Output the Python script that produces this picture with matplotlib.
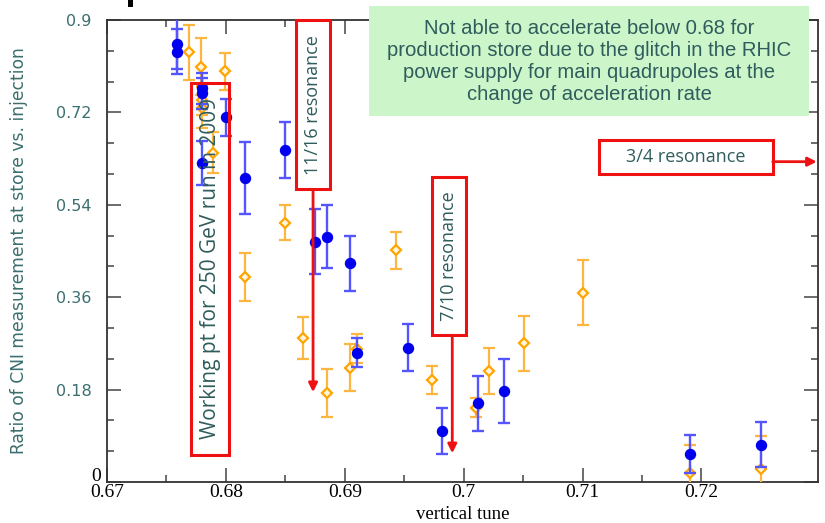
import matplotlib

matplotlib.use("Agg")

import matplotlib.pyplot as plt
from matplotlib.patches import Rectangle
from matplotlib.ticker import MultipleLocator

# -------------------------
# data
# -------------------------
blue_tune = [0.6759, 0.6759, 0.6780, 0.6780, 0.6780, 0.6800, 0.6816, 0.6850,
             0.6875, 0.6885, 0.6904, 0.6910, 0.6953, 0.6982, 0.7012, 0.7034,
             0.7190, 0.7250]
blue_ratio = [0.853, 0.838, 0.767, 0.757, 0.621, 0.711, 0.592, 0.647,
              0.468, 0.478, 0.426, 0.252, 0.262, 0.099, 0.153, 0.177,
              0.054, 0.073]
blue_err = [0.049, 0.044, 0.030, 0.030, 0.043, 0.036, 0.070, 0.054,
            0.063, 0.062, 0.054, 0.028, 0.045, 0.045, 0.054, 0.063,
            0.037, 0.043]

orange_tune = [0.6769, 0.6779, 0.6780, 0.6780, 0.6799, 0.6789, 0.6816, 0.6850,
               0.6865, 0.6885, 0.6904, 0.6910, 0.6943, 0.6973, 0.7010, 0.7021,
               0.7051, 0.7100, 0.7190, 0.7250]
orange_ratio = [0.837, 0.809, 0.744, 0.729, 0.800, 0.641, 0.400, 0.505,
                0.281, 0.173, 0.223, 0.260, 0.451, 0.199, 0.145, 0.216,
                0.270, 0.369, 0.017, 0.025]
orange_err = [0.054, 0.055, 0.030, 0.040, 0.036, 0.040, 0.047, 0.034,
              0.041, 0.047, 0.045, 0.028, 0.036, 0.027, 0.018, 0.045,
              0.054, 0.063, 0.056, 0.064]

x_ticks = [0.67, 0.68, 0.69, 0.70, 0.71, 0.72]
x_tick_labels = ["0.67", "0.68", "0.69", "0.7", "0.71", "0.72"]
y_ticks = [0.0, 0.18, 0.36, 0.54, 0.72, 0.9]
y_tick_labels = ["", "0.18", "0.36", "0.54", "0.72", "0.9"]

note_text = ("Not able to accelerate below 0.68 for\n"
             "production store due to the glitch in the RHIC\n"
             "power supply for main quadrupoles at the\n"
             "change of acceleration rate")

# -------------------------
# style
# -------------------------
TEAL = "#3b6e6e"
NOTE_TEAL = "#2f5c5c"
RED = "#ee1111"
BLUE = "#0000ee"
ORANGE = "#ffa500"
SERIF = "Liberation Serif"
LABEL_FONT = "Open Sans"

fig = plt.figure(figsize=(8.25, 5.23), dpi=100)
ax = fig.add_axes([107 / 825, 1 - 482 / 523, 711 / 825, 462 / 523])

ax.errorbar(orange_tune, orange_ratio, yerr=orange_err, fmt="D",
            color=ORANGE, ecolor="#ffb640", elinewidth=1.6, capsize=4.3,
            capthick=1.6, markersize=5.2, markerfacecolor="#fff4dc",
            markeredgecolor=ORANGE, markeredgewidth=1.6, zorder=3)
ax.errorbar(blue_tune, blue_ratio, yerr=blue_err, fmt="o",
            color=BLUE, ecolor="#5555ff", elinewidth=1.7, capsize=4.3,
            capthick=1.7, markersize=7.2, markeredgecolor=BLUE, zorder=4)

ax.set_xlim(0.67, 0.7298)
ax.set_ylim(0, 0.9)
ax.set_xticks(x_ticks)
ax.set_xticklabels(x_tick_labels, family=SERIF, fontsize=14, color="black")
ax.set_yticks(y_ticks)
ax.set_yticklabels(y_tick_labels, family="DejaVu Sans", fontsize=11.5, color=TEAL)
ax.xaxis.set_minor_locator(MultipleLocator(0.005))
ax.yaxis.set_minor_locator(MultipleLocator(0.06))
ax.tick_params(which="both", direction="in", top=True, right=True,
               width=1.1, color="#444444")
ax.tick_params(which="major", length=10)
ax.tick_params(which="minor", length=5)
ax.tick_params(axis="x", pad=1.5)
ax.tick_params(axis="y", pad=11)
for spine in ax.spines.values():
    spine.set_linewidth(1.3)
    spine.set_color("#333333")

# the zero on the y axis is in the serif face
ax.annotate("0", xy=(0, 0), xycoords="axes fraction", xytext=(-4, 4),
            textcoords="offset points", ha="right", va="center",
            family=SERIF, fontsize=14, color="black")

ax.set_xlabel("vertical tune", family=SERIF, fontsize=13.5, va="top")
ax.xaxis.set_label_coords(0.5, -0.052)
ax.set_ylabel("Ratio of CNI measurement at store vs. injection",
              family="DejaVu Sans", fontsize=12.3, color=TEAL)
ax.yaxis.set_label_coords(-0.111, 0.5)

# -------------------------
# annotation boxes
# -------------------------
def red_box(x0, x1, y0, y1, fill="none", z=6):
    ax.add_patch(Rectangle((x0, y0), x1 - x0, y1 - y0, facecolor=fill,
                           edgecolor=RED, linewidth=2.2, zorder=z, clip_on=False))


def red_arrow(x0, y0, x1, y1):
    ax.annotate("", xy=(x1, y1), xytext=(x0, y0),
                arrowprops=dict(arrowstyle="-|>", color=RED, lw=2.0,
                                mutation_scale=13, shrinkA=0, shrinkB=0),
                zorder=6, annotation_clip=False)


# working point
red_box(0.6771, 0.6803, 0.0526, 0.778)
ax.text(0.6787, 0.415, "Working pt for 250 GeV run in 2009", rotation=90,
        ha="center", va="center", family=LABEL_FONT, fontsize=15,
        color=NOTE_TEAL, zorder=7)

# 11/16 resonance
red_box(0.68587, 0.68878, 0.570, 0.8995, fill="white")
ax.text(0.68733, 0.735, "11/16 resonance", rotation=90, ha="center",
        va="center", family=LABEL_FONT, fontsize=13, color=NOTE_TEAL, zorder=7)
red_arrow(0.68733, 0.570, 0.68733, 0.175)

# 7/10 resonance
red_box(0.69734, 0.70023, 0.286, 0.595, fill="white")
ax.text(0.69879, 0.44, "7/10 resonance", rotation=90, ha="center",
        va="center", family=LABEL_FONT, fontsize=13, color=NOTE_TEAL, zorder=7)
red_arrow(0.69904, 0.286, 0.69904, 0.056)

# 3/4 resonance
red_box(0.71140, 0.72599, 0.600, 0.666, fill="white")
ax.text(0.7187, 0.633, "3/4 resonance", ha="center", va="center",
        family=LABEL_FONT, fontsize=13, color=NOTE_TEAL, zorder=7)
red_arrow(0.72599, 0.624, 0.7297, 0.624)

# green note on the slide
fig.patches.append(Rectangle((369 / 825, 1 - 116 / 523), 440 / 825, 110 / 523,
                             transform=fig.transFigure, facecolor="#ccf5c9",
                             edgecolor="none", zorder=10))
fig.text(589 / 825, 1 - 61 / 523, note_text, ha="center", va="center",
         family="Liberation Sans", fontsize=14.6, color=NOTE_TEAL,
         linespacing=1.2, zorder=11)

# small black mark above the frame
fig.patches.append(Rectangle((128 / 825, 1 - 7 / 523), 5 / 825, 7 / 523,
                             transform=fig.transFigure, facecolor="black",
                             edgecolor="none", zorder=10))

fig.savefig("out.png", dpi=100)
